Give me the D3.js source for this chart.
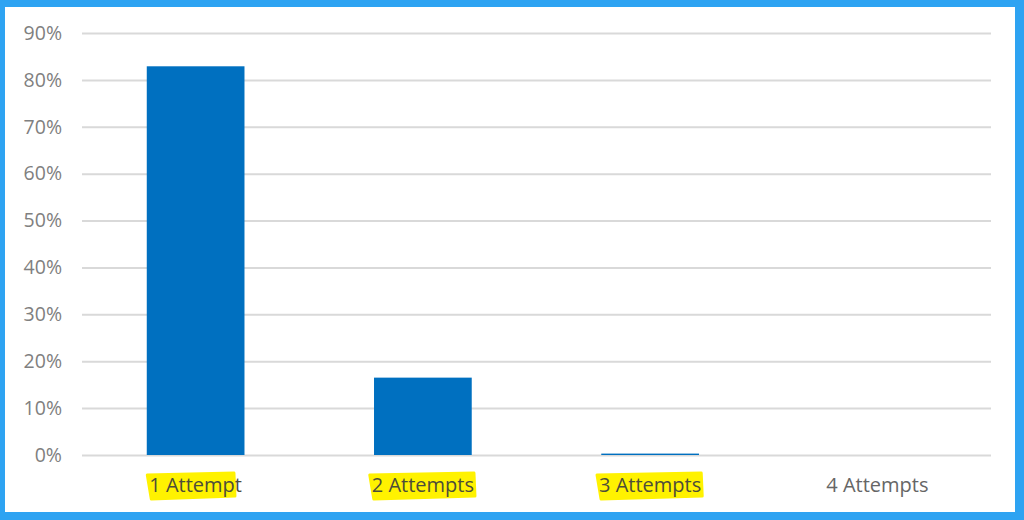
<!DOCTYPE html>
<html>
<head>
<meta charset="utf-8">
<script src="https://cdn.jsdelivr.net/npm/d3@7"></script>
<style>
  html, body { margin: 0; padding: 0; background: #2ea3f2; }
  #chart { width: 1024px; height: 520px; }
  svg { display: block; }
</style>
</head>
<body>
<div id="chart"></div>
<script>
// Share of enrolments by number of attempts
const categories = ['1 Attempt', '2 Attempts', '3 Attempts', '4 Attempts'];
const shares = [0.829, 0.165, 0.003, 0];
const highlighted = [true, true, true, false];
const yTicks = [0, 0.1, 0.2, 0.3, 0.4, 0.5, 0.6, 0.7, 0.8, 0.9];

const width = 1024, height = 520;
const panel = { left: 5, top: 7, right: 1015, bottom: 512 };
const plot = { left: 82, right: 991, top: 33, bottom: 455 };

const svg = d3.select('#chart').append('svg')
  .attr('width', width)
  .attr('height', height);

// White panel inside the blue frame
svg.append('rect')
  .attr('x', panel.left)
  .attr('y', panel.top)
  .attr('width', panel.right - panel.left)
  .attr('height', panel.bottom - panel.top)
  .attr('fill', '#ffffff');

const x = d3.scaleBand()
  .domain(categories)
  .range([plot.left, plot.right])
  .paddingInner(0.57)
  .paddingOuter(0.285);

const y = d3.scaleLinear()
  .domain([0, 0.9])
  .range([plot.bottom, plot.top]);

// Gridlines + y labels
const yAxis = svg.append('g')
  .attr('transform', `translate(${plot.left},0)`)
  .call(d3.axisLeft(y)
    .tickValues(yTicks)
    .tickFormat(d3.format('.0%'))
    .tickSize(-(plot.right - plot.left))
    .tickPadding(20));

yAxis.select('.domain').remove();
yAxis.selectAll('.tick line')
  .attr('stroke', '#d9d9d9')
  .attr('stroke-width', 2);
yAxis.selectAll('.tick text')
  .attr('fill', '#808080')
  .attr('font-family', '"Open Sans", "Noto Sans", sans-serif')
  .attr('font-size', 19.5);

// Bars
svg.append('g').selectAll('rect')
  .data(categories)
  .join('rect')
  .attr('x', d => x(d))
  .attr('width', x.bandwidth())
  .attr('y', (d, i) => y(shares[i]))
  .attr('height', (d, i) => y(0) - y(shares[i]))
  .attr('fill', '#0070c0');

// Category labels with marker highlight
const labelY = 492;
const labels = svg.append('g');
const hl = labels.append('g');
const texts = labels.append('g').selectAll('text')
  .data(categories)
  .join('text')
  .attr('x', d => x(d) + x.bandwidth() / 2)
  .attr('y', labelY)
  .attr('text-anchor', 'middle')
  .attr('fill', (d, i) => highlighted[i] ? '#4d4d3a' : '#666666')
  .attr('font-family', '"Open Sans", "Noto Sans", sans-serif')
  .attr('font-size', 20)
  .text(d => d);

texts.each(function (d, i) {
  if (!highlighted[i]) return;
  const b = this.getBBox();
  const x0 = b.x - 2, x1 = b.x + b.width - (i === 0 ? 8 : 0);
  const t = b.y + 3, bt = b.y + b.height;
  hl.append('path')
    .attr('d', `M${x0},${t + 1} L${x1},${t - 1} L${x1 + 1},${bt - 2} L${x0 + 4},${bt + 1} Z`)
    .attr('fill', '#fff200')
    .attr('stroke', '#fff200')
    .attr('stroke-width', 3)
    .attr('stroke-linejoin', 'round');
});
</script>
</body>
</html>
